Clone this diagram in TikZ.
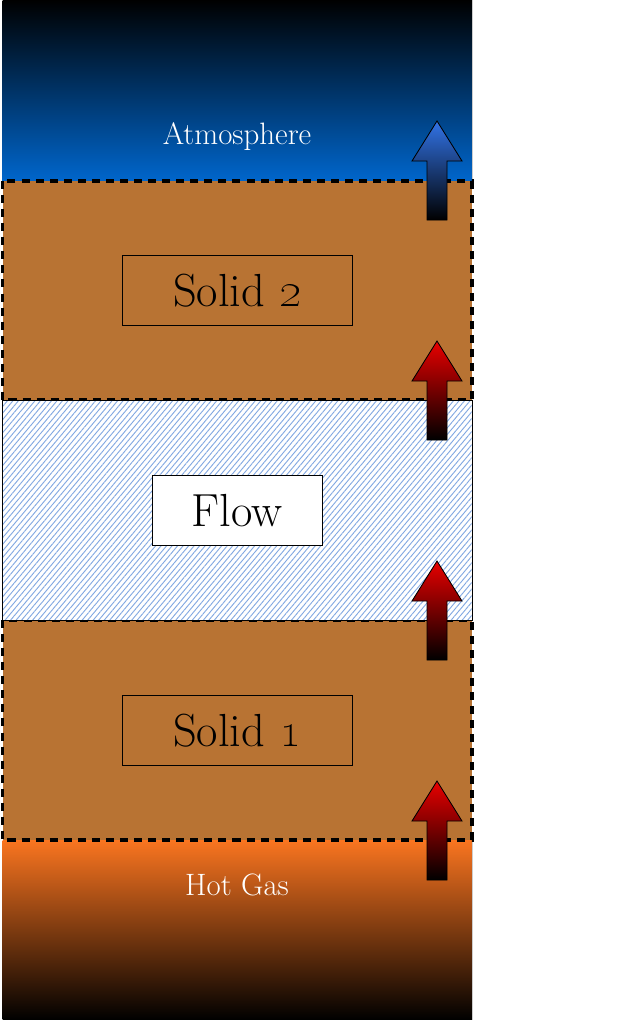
\documentclass[tikz,border=0pt]{standalone}
\usepackage{tikz}
\usetikzlibrary{patterns.meta}

\definecolor{copper}{RGB}{184,115,51}
\definecolor{skyblue}{RGB}{0,102,204}
\definecolor{gasorange}{RGB}{250,117,32}
\definecolor{hatchblue}{RGB}{130,168,226}
\definecolor{hotred}{RGB}{232,0,0}
\definecolor{coolblue}{RGB}{50,115,230}

\begin{document}
\begin{tikzpicture}[
  x=0.025cm, y=-0.025cm,
  every node/.style={font=\rmfamily},
  slab/.style={
    fill=copper, draw=black, line width=2.5pt,
    dash pattern=on 5.7pt off 4.3pt},
  flowzone/.style={
    fill=white, draw=black, line width=0.5pt},
  tag/.style={
    rectangle, draw=black, line width=0.6pt,
    minimum width=5.75cm, minimum height=1.75cm,
    font=\fontsize{33}{38}\selectfont},
  gaslbl/.style={text=white, anchor=base, font=\fontsize{22}{26}\selectfont},
  hot/.style={top color=hotred, bottom color=black, draw=black, line width=0.6pt},
  cool/.style={top color=coolblue, bottom color=black, draw=black, line width=0.6pt},
]
\useasboundingbox (0,0) rectangle (632,1020);

% outer gases
\shade[top color=black, bottom color=skyblue] (2.5,0) rectangle (472,181);
\shade[top color=gasorange, bottom color=black] (2.5,840) rectangle (472,1020);
\draw[gray!40, line width=0.4pt] (472,0) -- (472,181) (472,840) -- (472,1020);

% solid layers
\draw[slab] (2.5,181) rectangle (472,400);
\draw[slab] (2.5,620) rectangle (472,840);

% flow channel
\draw[flowzone] (2.5,400) rectangle (472,620);
\fill[pattern={Lines[angle=50, distance=3pt, line width=0.65pt]}, pattern color=hatchblue]
  (3,401) rectangle (471.5,619.5);

\node[gaslbl] (atmo) at (237,144) {Atmosphere};
\node[gaslbl] (gas)  at (237,895) {Hot Gas};

\node[tag] (solidtwo) at (237.3,290.3) {Solid \oldstylenums{2}};
\node[tag, fill=white, minimum width=4.25cm] (flowbox) at (237.3,510.3) {Flow};
\node[tag] (solidone) at (237.3,730.3) {Solid \oldstylenums{1}};

% heat arrows
\shadedraw[cool] (437,121) -- ++(25,40) -- ++(-15,0) -- ++(0,59) -- ++(-20,0) -- ++(0,-59) -- ++(-15,0) -- cycle;
\shadedraw[hot]  (437,341) -- ++(25,40) -- ++(-15,0) -- ++(0,59) -- ++(-20,0) -- ++(0,-59) -- ++(-15,0) -- cycle;
\shadedraw[hot]  (437,561) -- ++(25,40) -- ++(-15,0) -- ++(0,59) -- ++(-20,0) -- ++(0,-59) -- ++(-15,0) -- cycle;
\shadedraw[hot]  (437,781) -- ++(25,40) -- ++(-15,0) -- ++(0,59) -- ++(-20,0) -- ++(0,-59) -- ++(-15,0) -- cycle;

\end{tikzpicture}
\end{document}
